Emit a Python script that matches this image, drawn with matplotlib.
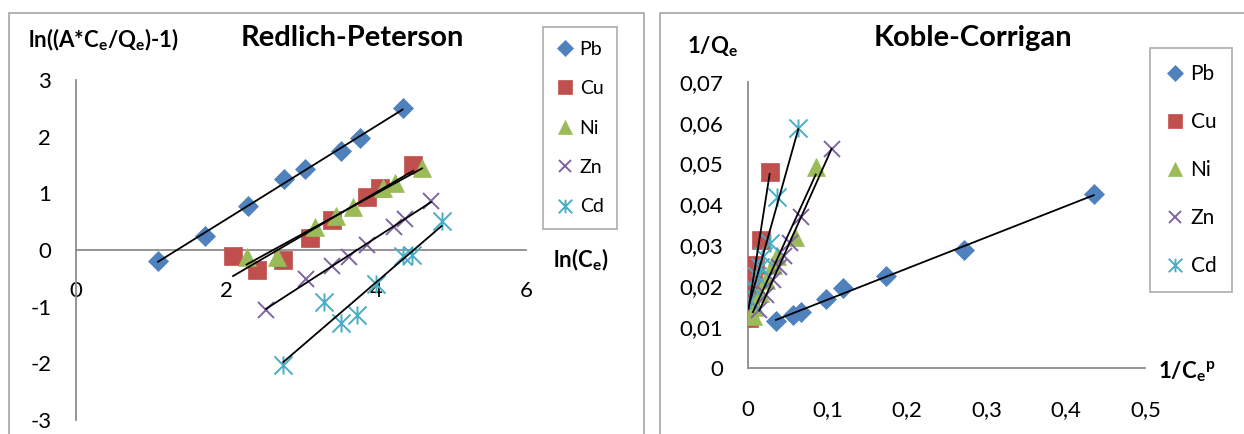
import numpy as np
import matplotlib
matplotlib.use('Agg')
from matplotlib import pyplot as plt
from matplotlib.patches import Rectangle
from matplotlib.path import Path

plt.rcParams['font.family'] = ['Lato', 'DejaVu Sans']
plt.rcParams['axes.unicode_minus'] = False
plt.rcParams['mathtext.default'] = 'regular'

W, H = 1244, 434

metals = ['Pb', 'Cu', 'Ni', 'Zn', 'Cd']

# Redlich-Peterson: ln(Ce) vs ln((A*Ce/Qe)-1)
rp_x = {
    'Pb': [1.09, 1.71, 2.29, 2.77, 3.05, 3.53, 3.78, 4.35],
    'Cu': [2.09, 2.41, 2.76, 3.11, 3.41, 3.87, 4.05, 4.49],
    'Ni': [2.27, 2.67, 3.18, 3.46, 3.69, 4.09, 4.25, 4.61],
    'Zn': [2.53, 3.06, 3.41, 3.64, 3.87, 4.23, 4.38, 4.73],
    'Cd': [2.76, 3.30, 3.53, 3.74, 3.99, 4.36, 4.47, 4.87],
}
rp_y = {
    'Pb': [-0.19, 0.25, 0.78, 1.25, 1.43, 1.75, 1.98, 2.50],
    'Cu': [-0.11, -0.35, -0.17, 0.22, 0.53, 0.94, 1.09, 1.50],
    'Ni': [-0.12, -0.13, 0.40, 0.60, 0.76, 1.09, 1.19, 1.45],
    'Zn': [-1.06, -0.52, -0.28, -0.13, 0.09, 0.40, 0.55, 0.87],
    'Cd': [-2.03, -0.92, -1.29, -1.15, -0.60, -0.10, -0.08, 0.52],
}

# Koble-Corrigan: 1/Ce^p vs 1/Qe
kc_x = {
    'Pb': [0.035, 0.056, 0.067, 0.098, 0.119, 0.173, 0.272, 0.435],
    'Cu': [0.027, 0.016, 0.008, 0.006, 0.004, 0.002, 0.001, 0.0005],
    'Ni': [0.085, 0.059, 0.036, 0.031, 0.023, 0.015, 0.009, 0.006],
    'Zn': [0.105, 0.066, 0.052, 0.0445, 0.039, 0.0315, 0.023, 0.014],
    'Cd': [0.063, 0.036, 0.0275, 0.019, 0.015, 0.011, 0.0065, 0.002],
}
kc_y = {
    'Pb': [0.0116, 0.0130, 0.0136, 0.0169, 0.0195, 0.0224, 0.0289, 0.0425],
    'Cu': [0.0480, 0.0313, 0.0253, 0.0228, 0.0199, 0.0171, 0.0147, 0.0122],
    'Ni': [0.0492, 0.0321, 0.0273, 0.0252, 0.0216, 0.0183, 0.0150, 0.0126],
    'Zn': [0.0535, 0.0370, 0.0305, 0.0273, 0.0248, 0.0216, 0.0179, 0.0142],
    'Cd': [0.0586, 0.0419, 0.0305, 0.0273, 0.0248, 0.0224, 0.0199, 0.0167],
}

rp_xticks = [0, 2, 4, 6]
rp_yticks = [-3, -2, -1, 0, 1, 2, 3]
kc_xticks = [0, 0.1, 0.2, 0.3, 0.4, 0.5]
kc_xlabels = ['0', '0,1', '0,2', '0,3', '0,4', '0,5']
kc_yticks = [0, 0.01, 0.02, 0.03, 0.04, 0.05, 0.06, 0.07]
kc_ylabels = ['0', '0,01', '0,02', '0,03', '0,04', '0,05', '0,06', '0,07']

colors = {'Pb': '#4F81BD', 'Cu': '#C0504D', 'Ni': '#9BBB59', 'Zn': '#8064A2', 'Cd': '#4BACC6'}
star = Path([(0, -1), (0, 1), (-1, -1), (1, 1), (-1, 1), (1, -1)],
            [Path.MOVETO, Path.LINETO, Path.MOVETO, Path.LINETO, Path.MOVETO, Path.LINETO])
markers = {'Pb': ('D', 10.5), 'Cu': ('s', 13.5), 'Ni': ('^', 13.5), 'Zn': ('x', 12), 'Cd': (star, 13)}
gray = '#8C8C8C'


def fx(px):
    return px / W


def fy(py):
    return 1 - py / H


def box(l, t, r, b):
    return [fx(l), fy(b), fx(r) - fx(l), fy(t) - fy(b)]


def draw(ax, xs, ys):
    for m in metals:
        x = np.array(xs[m])
        y = np.array(ys[m])
        mk, ms = markers[m]
        c = colors[m]
        if m in ('Zn', 'Cd'):
            ax.plot(x, y, ls='none', marker=mk, ms=ms, mec=c, mfc='none', mew=1.4,
                    label=m, zorder=3)
        else:
            ax.plot(x, y, ls='none', marker=mk, ms=ms, mec=c, mfc=c, mew=0.5,
                    label=m, zorder=3)
    # linear trendlines
    for m in metals:
        x = np.array(xs[m])
        y = np.array(ys[m])
        k, b0 = np.polyfit(x, y, 1)
        xx = np.array([x.min(), x.max()])
        ax.plot(xx, k * xx + b0, color='black', lw=1.3, zorder=4)


def style(ax):
    for s in ['top', 'right']:
        ax.spines[s].set_visible(False)
    for s in ['left', 'bottom']:
        ax.spines[s].set_color(gray)
        ax.spines[s].set_linewidth(1.3)
    ax.tick_params(length=0)
    ax.patch.set_visible(False)


fig = plt.figure(figsize=(W / 100, H / 100), dpi=100)

# panel frames
fig.patches.append(Rectangle((fx(9), fy(470)), fx(644) - fx(9), fy(13) - fy(470),
                             transform=fig.transFigure, fill=False, ec='#A6A6A6', lw=1.2))
fig.patches.append(Rectangle((fx(660), fy(470)), fx(1300) - fx(660), fy(13) - fy(470),
                             transform=fig.transFigure, fill=False, ec='#A6A6A6', lw=1.2))

# ---- Redlich-Peterson
ax1 = fig.add_axes(box(76.3, 80, 526.3, 420))
draw(ax1, rp_x, rp_y)
style(ax1)
ax1.set_xlim(0, 6)
ax1.set_ylim(-3, 3)
ax1.spines['bottom'].set_position(('data', 0))
ax1.set_xticks(rp_xticks)
ax1.set_yticks(rp_yticks)
ax1.tick_params(axis='x', labelsize=16, pad=22)
ax1.tick_params(axis='y', labelsize=16, pad=18)
fig.text(fx(352), fy(38), 'Redlich-Peterson', fontsize=21, fontweight='bold', ha='center', va='center')
fig.text(fx(28), fy(40), 'ln((A*C$_\\mathregular{e}$/Q$_\\mathregular{e}$)-1)', fontsize=16,
         fontweight='bold', ha='left', va='center')
fig.text(fx(553), fy(260), 'ln(C$_\\mathregular{e}$)', fontsize=16, fontweight='bold',
         ha='left', va='center')
leg1 = ax1.legend(loc='upper left', bbox_to_anchor=(fx(542.7), fy(27.3)),
                  bbox_transform=fig.transFigure, fontsize=14, markerscale=0.75,
                  frameon=True, fancybox=False, edgecolor='#A0A0A0', borderpad=0.7,
                  labelspacing=1.15, handlelength=0.9, handletextpad=0.3, borderaxespad=0)
leg1.get_frame().set_linewidth(1.3)

# ---- Koble-Corrigan
ax2 = fig.add_axes(box(748.2, 81.7, 1145.4, 368))
draw(ax2, kc_x, kc_y)
style(ax2)
ax2.set_xlim(0, 0.5)
ax2.set_ylim(0, 0.07)
ax2.set_xticks(kc_xticks)
ax2.set_xticklabels(kc_xlabels)
ax2.set_yticks(kc_yticks)
ax2.set_yticklabels(kc_ylabels)
ax2.tick_params(axis='x', labelsize=16, pad=23)
ax2.tick_params(axis='y', labelsize=16, pad=18)
fig.text(fx(973), fy(38), 'Koble-Corrigan', fontsize=21, fontweight='bold', ha='center', va='center')
fig.text(fx(687), fy(47), '1/Q$_\\mathregular{e}$', fontsize=16, fontweight='bold',
         ha='left', va='center')
fig.text(fx(1158), fy(372), '1/C$_\\mathregular{e}$$^\\mathregular{p}$', fontsize=16,
         fontweight='bold', ha='left', va='center')
leg2 = ax2.legend(loc='upper left', bbox_to_anchor=(fx(1150), fy(48.3)),
                  bbox_transform=fig.transFigure, fontsize=15, markerscale=0.75,
                  frameon=True, fancybox=False, edgecolor='#A0A0A0', borderpad=0.75,
                  labelspacing=1.35, handlelength=0.9, handletextpad=0.3, borderaxespad=0)
leg2.get_frame().set_linewidth(1.3)

fig.savefig('out.png', dpi=100)
